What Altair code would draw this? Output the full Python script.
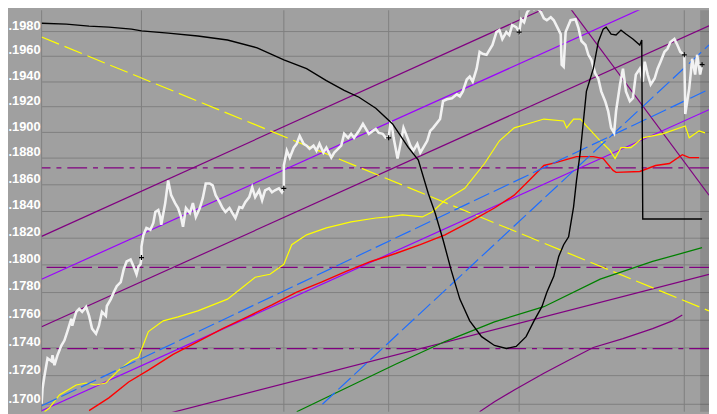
import altair as alt
import pandas as pd

# ---------------- data (x = bar index, y = price) ----------------
grid_x = [0, 101, 245, 351, 483, 650]
y_ticks = [0.170, 0.172, 0.174, 0.176, 0.178, 0.180, 0.182, 0.184,
           0.186, 0.188, 0.190, 0.192, 0.194, 0.196, 0.198]
strip_start = [666]
strip_end = [675]

white_t = [0, 1, 3, 6, 10, 11, 13, 16, 20, 23, 26, 30, 31, 35, 38, 41, 45, 48, 51, 55,
           58, 61, 65, 66, 70, 73, 76, 80, 83, 86, 90, 93, 96, 98, 100, 101,
           101, 103, 106, 110, 113, 115, 118, 120, 121, 125, 128, 130, 131, 135, 138, 141,
           143, 146, 150, 153, 156, 160, 163, 166, 170, 173, 176, 180, 183, 186, 190, 193,
           196, 200, 203, 206, 210, 213, 216, 220, 223, 226, 230, 233, 236, 240, 243, 245,
           245, 248, 251, 255, 258, 261, 265, 268, 271, 275, 278, 281, 285, 288, 293, 296,
           300, 303, 306, 310, 313, 316, 321, 325, 328, 331, 335, 338, 341, 345, 348, 351,
           353, 355, 356, 360, 363, 366, 370, 373, 376, 380, 383, 386, 390, 393, 396, 403,
           406, 410, 415, 420, 423, 426, 430, 433, 436, 440, 443, 446, 450, 453, 456, 460,
           463, 466, 470, 473, 476, 480, 483,
           485, 488, 491, 495, 498, 501, 505, 508, 511, 515, 518, 521, 525, 526, 528, 530,
           535, 540, 543, 546, 550, 553, 556, 560, 563, 566, 570, 573, 576, 579, 581, 585,
           588, 591, 595, 598, 601, 605, 608, 610, 613, 616, 620, 623, 626, 630, 633, 636,
           640, 643, 646, 650,
           651, 653, 655, 658, 661, 663, 666, 668]
white_v = [.17003, .17113, .17203, .17322, .17301, .17343, .17273, .17343, .17413, .17448,
           .17512, .17604, .17554, .17654, .17675, .17654, .17689, .17625, .17533, .17497,
           .17554, .17654, .17625, .17696, .17746, .17796, .17840, .17869, .17963, .18021,
           .18036, .17985, .17927, .17985, .17999, .18050,
           .18131, .18218, .18270, .18256, .18307, .18389, .18404, .18352, .18293, .18456,
           .18628, .18553, .18516, .18456, .18419, .18352, .18278, .18419, .18381, .18456,
           .18352, .18419, .18493, .18605, .18605, .18590, .18516, .18463, .18419, .18389,
           .18419, .18381, .18344, .18426, .18419, .18463, .18501, .18575, .18501, .18553,
           .18478, .18553, .18568, .18538, .18553, .18568, .18538, .18568,
           .18742, .18856, .18802, .18879, .18909, .18970, .18909, .18894, .18871, .18894,
           .18856, .18909, .18841, .18879, .18802, .18841, .18871, .18894, .18986, .18955,
           .18986, .18955, .19009, .19063, .19024, .18986, .19009, .19024, .18993, .18986,
           .18955, .18955,
           .19086, .19009, .18955, .18795, .18909, .19032, .18955, .18894, .18856, .18909,
           .18841, .18879, .18932, .19009, .19032, .19101, .19241, .19256, .19264, .19295,
           .19279, .19318, .19412, .19436, .19396, .19498, .19633, .19617, .19609, .19649,
           .19688, .19792, .19808, .19736, .19792, .19768, .19848, .19832, .19792,
           .19896, .19872, .19953, .19993, .19977, .19993, .19953, .19904, .19888, .19912,
           .19888, .19840, .19776, .19530, .19514, .19792, .19888, .19896, .19824, .19720,
           .19688, .19609, .19569, .19459, .19420, .19318, .19241, .19163, .19032, .18993,
           .19163, .19373, .19498, .19318, .19241, .19264, .19451, .19498, .19396, .19554,
           .19451, .19373, .19420, .19498, .19554, .19633, .19657, .19712, .19736, .19688,
           .19633, .19609,
           .19140, .19241, .19342, .19577, .19451, .19609, .19451, .19530]

marker_t = [101, 245, 351, 483, 650, 668]
marker_v = [.18050, .18568, .18955, .19792, .19609, .19530]

black_t = [0, 25, 48, 68, 91, 101, 128, 158, 188, 218, 245, 268, 288, 306, 321, 338, 355,
           371, 381, 391, 398, 406, 414, 423, 433, 445, 458, 470, 480, 490, 498, 506, 511,
           518, 523, 528, 533, 538, 541, 545, 551, 558, 563, 568, 571, 576, 581, 586, 591,
           598, 605, 607, 608, 668]
black_v = [.19864, .19856, .19840, .19832, .19816, .19802, .19784, .19760, .19728, .19665,
           .19569, .19498, .19404, .19326, .19272, .19186, .19063, .18879, .18784, .18531,
           .18381, .18182, .17963, .17746, .17589, .17476, .17413, .17392, .17406, .17476,
           .17589, .17691, .17796, .17912, .18058, .18145, .18204, .18426, .18628, .18856,
           .19318, .19498, .19712, .19816, .19832, .19776, .19768, .19808, .19776, .19736,
           .19688, .19728, .18337, .18337]

yellow_ma_t = [3, 8, 18, 35, 45, 55, 65, 78, 91, 98, 108, 123, 138, 158, 188, 216, 231,
               245, 253, 268, 288, 313, 338, 351, 365, 385, 395, 408, 428, 448, 463, 478,
               498, 508, 528, 531, 538, 545, 551, 565, 575, 580, 586, 596, 608, 628, 651,
               655, 665, 671]
yellow_ma_v = [.16948, .16975, .17065, .17134, .17148, .17134, .17148, .17238, .17308,
               .17329, .17512, .17589, .17618, .17661, .17746, .17905, .17927, .18000,
               .18145, .18218, .18270, .18315, .18344, .18352, .18367, .18352, .18389,
               .18478, .18568, .18757, .18932, .19032, .19078, .19101, .19086, .19032,
               .19101, .19101, .19047, .18932, .18856, .18795, .18879, .18879, .18955,
               .18986, .19047, .18955, .19009, .18993]

red_t = [48, 68, 88, 108, 133, 158, 183, 208, 233, 258, 283, 308, 333, 358, 383, 408,
         433, 458, 478, 493, 508, 520, 541, 558, 568, 578, 581, 605, 621, 635, 648, 655, 665]
red_v = [.16955, .17044, .17155, .17238, .17350, .17441, .17533, .17618, .17704, .17796,
         .17869, .17949, .18021, .18080, .18145, .18218, .18315, .18419, .18516, .18628,
         .18742, .18764, .18810, .18810, .18795, .18704, .18689, .18696, .18742, .18757,
         .18825, .18802, .18802]

green_t = [258, 308, 358, 408, 458, 508, 565, 618, 668]
green_v = [.16948, .17113, .17280, .17441, .17582, .17691, .17891, .18021, .18123]

purple_curve_t = [443, 458, 478, 508, 533, 558, 588, 618, 638, 648]
purple_curve_v = [.16948, .17017, .17099, .17217, .17308, .17399, .17462, .17533, .17589, .17632]

# straight trend lines: [start_t, end_t], [start_v, end_v]
yellow_trend = ([0, 675], [.19752, .17661])
blue_trend1 = ([0, 675], [.16989, .19334])
blue_trend2 = ([284, 675], [.17000, .19688])
chan1 = ([0, 675], [.18207, .20600])
chan2 = ([0, 675], [.17891, .20232])
chan3 = ([0, 675], [.17547, .19843])
chan4 = ([0, 675], [.16955, .19174])
chan5 = ([0, 675], [.16712, .17926])
down_line = ([531, 675], [.20025, .18516])

h_dashdot = [.18724, .17390]
h_dashed = [.17978]

# ---------------- chart ----------------
XS = alt.Scale(domain=[0, 675], nice=False, zero=False)
YS = alt.Scale(type="log", domain=[0.16948, 0.19969], nice=False, zero=False)
YAX = alt.Axis(values=y_ticks, grid=True, gridColor="#808080", gridWidth=1,
               labelExpr="substring(format(datum.value, '.4f'), 1)",
               labelFont="Liberation Sans", labelFontSize=13, labelFontWeight="bold",
               labelColor="#FFFFFF", labelPadding=1.5, ticks=False, tickSize=0,
               domain=False, title=None, labelBaseline="alphabetic", labelOffset=-2,
               labelOverlap=False, labelFlush=False, labelBound=False)

DARK = "#800080"
VIOLET = "#9B00FF"


def xenc():
    return alt.X("t:Q", scale=XS, axis=None)


def yenc():
    return alt.Y("v:Q", scale=YS, axis=YAX)


def line(t, v, color, width=1.2, dash=None):
    df = pd.DataFrame({"t": t, "v": v, "i": list(range(len(t)))})
    kw = dict(color=color, strokeWidth=width, clip=True)
    if dash:
        kw["strokeDash"] = dash
    return alt.Chart(df).mark_line(**kw).encode(x=xenc(), y=yenc(), order="i:Q")


def hline(vals, color, dash):
    df = pd.DataFrame({"v": vals})
    return alt.Chart(df).mark_rule(color=color, strokeWidth=1.3, strokeDash=dash,
                                   clip=True).encode(y=yenc())


vgrid = alt.Chart(pd.DataFrame({"t": grid_x})).mark_rule(
    color="#808080", strokeWidth=1).encode(x=xenc())

strip = alt.Chart(pd.DataFrame({"t": strip_start, "t2": strip_end})).mark_rect(
    color="#000000", opacity=0.12).encode(x=xenc(), x2="t2:Q")

layers = [
    vgrid,
    strip,
    hline(h_dashdot, DARK, [20, 6, 5, 6]),
    hline(h_dashed, DARK, [20, 6]),
    line(*chan1, DARK),
    line(*chan3, DARK),
    line(*chan5, DARK),
    line(*down_line, DARK),
    line(purple_curve_t, purple_curve_v, DARK),
    line(*chan2, VIOLET),
    line(*chan4, VIOLET),
    line(*yellow_trend, "#FFFF00", 1.2, [19, 6]),
    line(green_t, green_v, "#008000", 1.3),
    line(red_t, red_v, "#FF0000", 1.4),
    line(yellow_ma_t, yellow_ma_v, "#FFFF00", 1.2),
    line(*blue_trend1, "#1E6EFF", 1.2, [17, 5]),
    line(*blue_trend2, "#1E6EFF", 1.2, [17, 5]),
    line(white_t, white_v, "#F2F2F2", 2.6),
    line(black_t, black_v, "#000000", 1.4),
    alt.Chart(pd.DataFrame({"t": marker_t, "v": marker_v})).mark_point(
        shape="M-1,0L1,0M0,-1L0,1", filled=False, color="#000000", size=25,
        strokeWidth=1.2, opacity=1).encode(x=xenc(), y=yenc()),
]

chart = alt.layer(*layers).properties(
    width=675, height=406,
    autosize=alt.AutoSizeParams(type="none"),
    padding={"left": 34, "top": 0, "right": 0, "bottom": 0},
    background="#A0A0A0",
).configure_view(fill="#A0A0A0", stroke=None)

chart.save("out.html", embed_options={"renderer": "svg", "actions": False})
